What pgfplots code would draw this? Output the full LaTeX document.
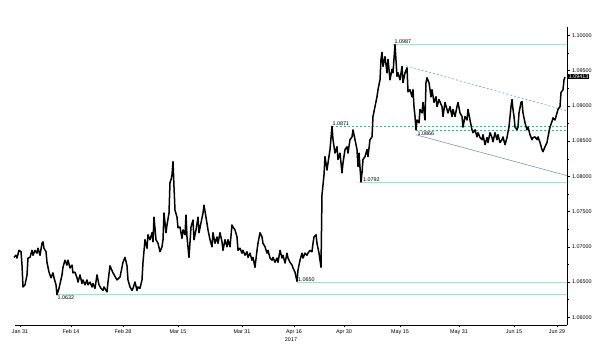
\documentclass[border=0pt]{standalone}
\usepackage{fontspec}
\setmainfont{Liberation Sans}
\usepackage{pgfplots}
\pgfplotsset{compat=1.18}
\definecolor{levelc}{RGB}{170,222,208}
\definecolor{greendash}{RGB}{80,175,135}
\definecolor{trendc}{RGB}{130,150,180}
\newcommand{\smallf}{\fontsize{5.4}{6}\selectfont}
\begin{document}
\begin{tikzpicture}
\useasboundingbox (0,0) rectangle (600pt,350pt);
\begin{axis}[
  at={(15pt,25pt)}, anchor=south west,
  scale only axis, width=552pt, height=298pt,
  xmin=15, xmax=567, ymin=1.0589, ymax=1.1012,
  axis x line=bottom, axis y line=right,
  axis line style={-, black, line width=0.5pt},
  clip=false,
  tick align=outside,
  major tick length=2.5pt, minor tick length=1.5pt,
  tick style={black, line width=0.4pt},
  minor x tick num=1, minor y tick num=1,
  xtick={20,71,123,178,242,294,344,400,459,514,557},
  xticklabels={Jan 31,Feb 14,Feb 28,Mar 15,Mar 31,Apr 16,Apr 30,May 15,May 31,Jun 15,Jun 29},
  ytick={1.06,1.065,1.07,1.075,1.08,1.085,1.09,1.095,1.10},
  yticklabel style={font=\smallf, xshift=-1pt, /pgf/number format/fixed, /pgf/number format/fixed zerofill, /pgf/number format/precision=5, /pgf/number format/assume math mode=true},
  xticklabel style={font=\smallf, yshift=1pt},
  xlabel={2017}, xlabel style={font=\smallf, yshift=4pt},
  scaled y ticks=false,
]
% level lines
\addplot[levelc, line width=0.8pt] coordinates {(393,1.0987) (567,1.0987)};
\addplot[levelc, line width=0.8pt] coordinates {(359,1.0792) (567,1.0792)};
\addplot[levelc, line width=0.8pt] coordinates {(297,1.0650) (567,1.0650)};
\addplot[levelc, line width=0.8pt] coordinates {(57,1.0632) (567,1.0632)};
\addplot[greendash, line width=0.5pt, dash pattern=on 2pt off 2pt] coordinates {(332,1.0871) (567,1.0871)};
\addplot[greendash, line width=0.5pt, dash pattern=on 2pt off 2pt] coordinates {(416,1.0866) (567,1.0866)};
% trend lines
\addplot[trendc, line width=0.6pt, dash pattern=on 2pt off 2pt] coordinates {(406,1.0957) (567,1.0893)};
\addplot[trendc, line width=0.6pt] coordinates {(416,1.0859) (567,1.0801)};
% price
\addplot[black, line width=1.5pt, line join=round] coordinates {
(14,1.0685)(16,1.0688)(17,1.0684)(19,1.0695)(21,1.0693)(22,1.0674)(23,1.0643)(25,1.0646)(27,1.0660)(28,1.0684)
(30,1.0685)(32,1.0695)(33,1.0688)(35,1.0695)(37,1.0691)(38,1.0698)(40,1.0688)(42,1.0705)(43,1.0707)(44,1.0698)
(46,1.0693)(47,1.0678)(49,1.0664)(51,1.0656)(53,1.0663)(54,1.0656)(56,1.0646)(57,1.0632)(59,1.0641)(62,1.0660)
(63,1.0671)(65,1.0681)(67,1.0674)(68,1.0681)(70,1.0670)(72,1.0674)(73,1.0663)(75,1.0664)(77,1.0656)(78,1.0650)
(80,1.0660)(82,1.0648)(83,1.0653)(85,1.0646)(87,1.0653)(88,1.0646)(90,1.0650)(92,1.0643)(93,1.0648)(95,1.0641)
(97,1.0660)(99,1.0646)(101,1.0641)(103,1.0638)(104,1.0643)(107,1.0636)(108,1.0650)(110,1.0673)(113,1.0663)(117,1.0653)
(120,1.0657)(123,1.0678)(125,1.0685)(127,1.0673)(128,1.0653)(130,1.0643)(132,1.0638)(133,1.0641)(135,1.0650)(137,1.0638)
(138,1.0643)(140,1.0641)(142,1.0653)(143,1.0678)(145,1.0710)(147,1.0698)(148,1.0717)(150,1.0710)(152,1.0720)(153,1.0707)
(154,1.0742)(156,1.0710)(158,1.0705)(160,1.0693)(162,1.0700)(163,1.0710)(164,1.0748)(166,1.0720)(167,1.0731)(169,1.0748)
(170,1.0791)(171,1.0795)(172,1.0802)(173,1.0821)(174,1.0785)(175,1.0752)(177,1.0742)(178,1.0727)(180,1.0728)(182,1.0712)
(183,1.0724)(185,1.0717)(186,1.0745)(187,1.0714)(189,1.0685)(191,1.0728)(193,1.0738)(194,1.0710)(196,1.0724)(198,1.0742)
(199,1.0720)(201,1.0734)(203,1.0748)(204,1.0759)(206,1.0742)(208,1.0724)(210,1.0710)(212,1.0700)(213,1.0720)(215,1.0705)
(217,1.0714)(218,1.0705)(220,1.0720)(222,1.0707)(223,1.0695)(225,1.0710)(227,1.0700)(228,1.0710)(230,1.0700)(232,1.0731)
(233,1.0728)(235,1.0724)(237,1.0714)(238,1.0695)(240,1.0698)(242,1.0691)(243,1.0695)(245,1.0688)(247,1.0693)(248,1.0685)
(250,1.0691)(252,1.0681)(253,1.0685)(255,1.0671)(257,1.0695)(258,1.0705)(260,1.0720)(262,1.0714)(263,1.0705)(265,1.0700)
(267,1.0691)(268,1.0695)(270,1.0684)(272,1.0681)(273,1.0685)(275,1.0678)(277,1.0684)(278,1.0678)(280,1.0695)(282,1.0684)
(283,1.0688)(285,1.0677)(287,1.0691)(288,1.0684)(290,1.0678)(292,1.0674)(293,1.0670)(295,1.0664)(297,1.0651)(298,1.0667)
(300,1.0681)(302,1.0691)(303,1.0684)(305,1.0691)(307,1.0688)(308,1.0691)(310,1.0695)(312,1.0693)(313,1.0705)(314,1.0714)
(316,1.0717)(317,1.0705)(319,1.0691)(321,1.0671)(322,1.0774)(323,1.0788)(324,1.0802)(325,1.0828)(327,1.0809)(328,1.0819)
(330,1.0838)(332,1.0871)(333,1.0852)(335,1.0833)(337,1.0842)(338,1.0824)(340,1.0833)(342,1.0805)(343,1.0819)(345,1.0838)
(347,1.0842)(348,1.0833)(350,1.0852)(352,1.0856)(353,1.0866)(355,1.0852)(357,1.0838)(358,1.0814)(359,1.0833)(361,1.0792)
(362,1.0805)(363,1.0824)(365,1.0828)(367,1.0838)(368,1.0828)(370,1.0852)(372,1.0856)(373,1.0885)(375,1.0899)(377,1.0913)
(378,1.0923)(380,1.0937)(381,1.0966)(382,1.0976)(383,1.0956)(385,1.0970)(387,1.0947)(388,1.0966)(390,1.0937)(392,1.0952)
(393,1.0947)(395,1.0987)(397,1.0942)(398,1.0947)(400,1.0937)(402,1.0956)(403,1.0933)(405,1.0947)(407,1.0954)(408,1.0920)
(410,1.0923)(412,1.0913)(413,1.0923)(414,1.0899)(415,1.0885)(416,1.0866)(417,1.0880)(419,1.0876)(420,1.0895)(422,1.0890)
(423,1.0905)(425,1.0880)(426,1.0933)(427,1.0940)(429,1.0933)(431,1.0913)(432,1.0923)(434,1.0905)(436,1.0913)(437,1.0899)
(439,1.0909)(442,1.0899)(443,1.0885)(445,1.0905)(447,1.0895)(448,1.0890)(450,1.0899)(452,1.0885)(453,1.0895)(455,1.0885)
(457,1.0899)(458,1.0905)(460,1.0890)(462,1.0885)(463,1.0870)(465,1.0885)(467,1.0880)(468,1.0895)(470,1.0880)(472,1.0866)
(473,1.0862)(475,1.0866)(477,1.0856)(478,1.0862)(480,1.0855)(482,1.0852)(483,1.0859)(485,1.0845)(487,1.0855)(488,1.0848)
(490,1.0862)(492,1.0855)(493,1.0849)(495,1.0862)(497,1.0852)(498,1.0859)(500,1.0848)(502,1.0852)(503,1.0856)(505,1.0845)
(507,1.0855)(508,1.0863)(509,1.0870)(511,1.0899)(512,1.0909)(513,1.0895)(514,1.0885)(515,1.0870)(517,1.0866)(518,1.0870)
(519,1.0890)(521,1.0905)(522,1.0906)(523,1.0890)(525,1.0876)(527,1.0866)(528,1.0870)(530,1.0859)(532,1.0852)(533,1.0855)
(535,1.0856)(537,1.0852)(538,1.0856)(540,1.0848)(542,1.0838)(543,1.0835)(545,1.0842)(547,1.0848)(548,1.0856)(550,1.0870)
(552,1.0878)(553,1.0883)(555,1.0880)(557,1.0890)(558,1.0895)(560,1.0899)(561,1.0919)(563,1.0923)(564,1.0937)(565,1.0941)
};
% labels
\node[font=\smallf, anchor=south west, inner sep=0.5pt] at (axis cs:394,1.0987) {1.0987};
\node[font=\smallf, anchor=south west, inner sep=0.5pt] at (axis cs:332,1.0871) {1.0871};
\node[font=\smallf, anchor=north west, inner sep=0.5pt] at (axis cs:417,1.0864) {1.0866};
\node[font=\smallf, anchor=south west, inner sep=0.5pt] at (axis cs:362.5,1.0792) {1.0792};
\node[font=\smallf, anchor=south west, inner sep=0.5pt] at (axis cs:297.5,1.0650) {1.0650};
\node[font=\smallf, anchor=north west, inner sep=0.5pt] at (axis cs:57,1.0631) {1.0632};
\node[font=\smallf, anchor=west, fill=black, text=white, inner sep=0.7pt] at (axis cs:568,1.09413) {1.09413};
\end{axis}
\end{tikzpicture}
\end{document}
